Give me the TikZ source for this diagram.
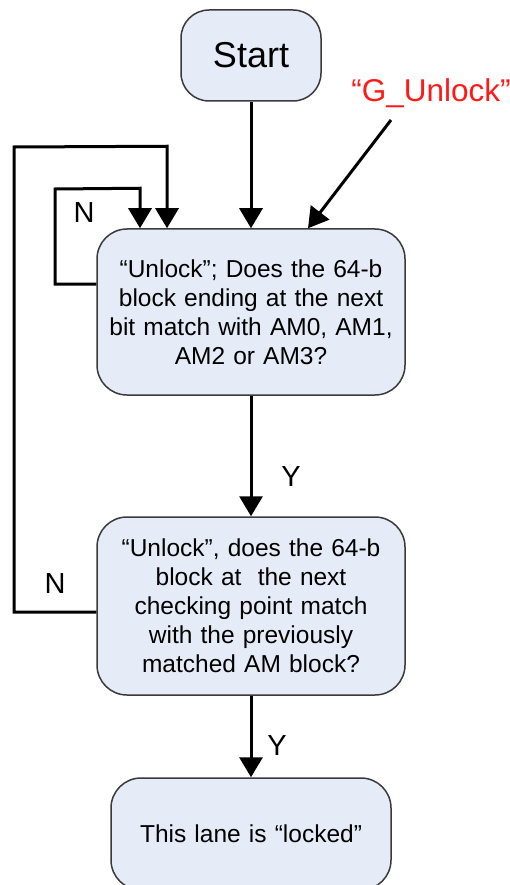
\documentclass[tikz,border=0pt]{standalone}
\usepackage{fontspec}
\setmainfont{Liberation Sans}
\usetikzlibrary{arrows.meta,calc}

\definecolor{boxfill}{HTML}{E6ECF7}
\definecolor{boxline}{HTML}{3A3A3A}
\definecolor{gred}{HTML}{FF1A1A}

\tikzset{
  flowbox/.style={draw=boxline, line width=1.5pt, fill=boxfill,
    rounded corners=30pt, inner sep=0pt, align=center,
    font=\fontsize{24.5}{29}\selectfont},
  flow/.style={line width=3pt, -{Triangle[width=23pt,length=20pt]}},
  lbl/.style={font=\fontsize{29}{32}\selectfont, inner sep=0pt}
}

\begin{document}
\begin{tikzpicture}[x=1pt, y=-1pt]
  \clip (0,0) rectangle (510,885);
  \fill[white] (0,0) rectangle (510,885);

  % process boxes
  \node[flowbox, rounded corners=28pt, minimum width=140pt, minimum height=91pt,
        font=\fontsize{36}{40}\selectfont] (start) at (251,55.5) {Start};
  \node[flowbox, minimum width=308pt, minimum height=166pt, text width=300pt] (find) at (251,312)
    {“Unlock"; Does the 64-b\\block ending at the next\\bit match with AM0, AM1,\\AM2 or AM3?};
  \node[flowbox, minimum width=308pt, minimum height=178pt, text width=300pt] (check) at (251,606)
    {“Unlock”, does the 64-b\\block at\ \ the next\\checking point match\\with the previously\\matched AM block?};
  \node[flowbox, minimum width=280pt, minimum height=112pt, text width=270pt] (locked) at (251,834)
    {This lane is “locked"};

  % global unlock entry
  \node[lbl, text=gred, font=\fontsize{31.5}{34}\selectfont] (gun) at (431,93) {“G\_Unlock”};
  \coordinate (gtail) at (391,120);

  % forward flow
  \draw[flow] (start.south) -- (find.north);
  \draw[flow] (gtail) -- ($(find.north)+(57,0)$);
  \draw[flow] (find.south) -- (check.north);
  \draw[flow] (check.south) -- (locked.north);

  % retry loops
  \draw[flow, sharp corners] ($(find.west)+(0,-28)$) -- (55,284) -- (55,189)
      -- ($(find.north)+(-111,0)+(0,-40)$) -- ($(find.north)+(-111,0)$);
  \draw[flow, sharp corners] ($(check.west)+(0,6)$) -- (14,612) -- (14,147)
      -- ($(find.north)+(-84,0)+(0,-82)$) -- ($(find.north)+(-84,0)$);

  % branch labels
  \node[lbl] (n1) at (84,213) {N};
  \node[lbl] (n2) at (55,584) {N};
  \node[lbl] (y1) at (291,477) {Y};
  \node[lbl] (y2) at (277,746) {Y};
\end{tikzpicture}
\end{document}
